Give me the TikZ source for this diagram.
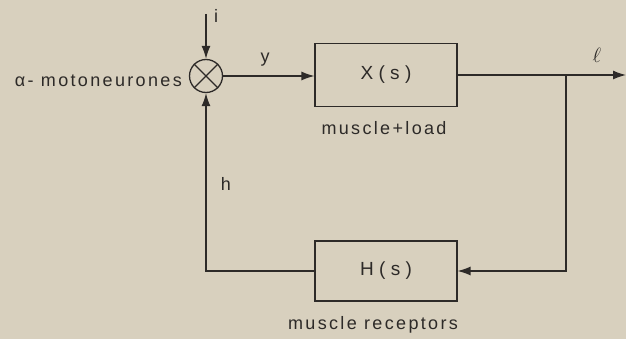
\documentclass[tikz,border=0pt]{standalone}
\usepackage{fontspec}
\setmainfont[LetterSpace=13]{Liberation Sans}
\newfontfamily\blkfont[LetterSpace=28]{Liberation Sans}
\usetikzlibrary{arrows.meta}
\definecolor{bg}{RGB}{216,208,190}
\definecolor{ink}{RGB}{45,42,40}
\begin{document}
\begin{tikzpicture}[x=1pt,y=-1pt,
  ln/.style={draw=ink,line width=1.3pt},
  arr/.style={ln,-{Latex[length=13pt,width=9pt]}},
  blk/.style={draw=ink,line width=1.1pt,rectangle,minimum width=142pt,inner sep=0pt,text=ink,font=\blkfont\fontsize{19}{22}\selectfont},
  lbl/.style={text=ink,inner sep=0pt,font=\fontsize{18}{20}\selectfont}]
\fill[bg] (0,0) rectangle (626,339);
\useasboundingbox (0,0) rectangle (626,339);
\node[draw=ink,line width=1.3pt,circle,minimum size=33pt,inner sep=0pt] (sum) at (206,76) {};
\draw[ln] (sum.45) -- (sum.225) (sum.135) -- (sum.315);
\node[blk,minimum height=63pt] (X) at (386,75) {X(s)};
\node[blk,minimum height=60pt] (H) at (386,271) {H(s)};
\coordinate (itop) at (206,14);
\coordinate (br) at (566,75);
\coordinate (out) at (626,75);
\coordinate (corner) at (206,271);
\coordinate (hcorner) at (566,271);
\draw[arr] (itop) -- (sum.north);
\draw[arr] (sum.east) -- (sum.east -| X.west);
\draw[arr] (X.east) -- (out);
\draw[arr] (br) -- (hcorner) -- (H.east);
\draw[arr] (H.west) -- (corner) -- (sum.south);
\node[lbl] (il) at (216,16) {i};
\node[lbl] (yl) at (265,60) {y};
\node[text=ink,inner sep=0pt,font=\fontsize{22}{24}\selectfont] (ll) at (597,55) {$\ell$};
\node[lbl] (hl) at (226,184) {h};
\node[lbl] (ml) at (384,128) {muscle+load};
\node[lbl] (rl) at (373,325) {muscle receptors};
\node[lbl,anchor=east] (al) at (182,81) {α- motoneurones};
\end{tikzpicture}
\end{document}
